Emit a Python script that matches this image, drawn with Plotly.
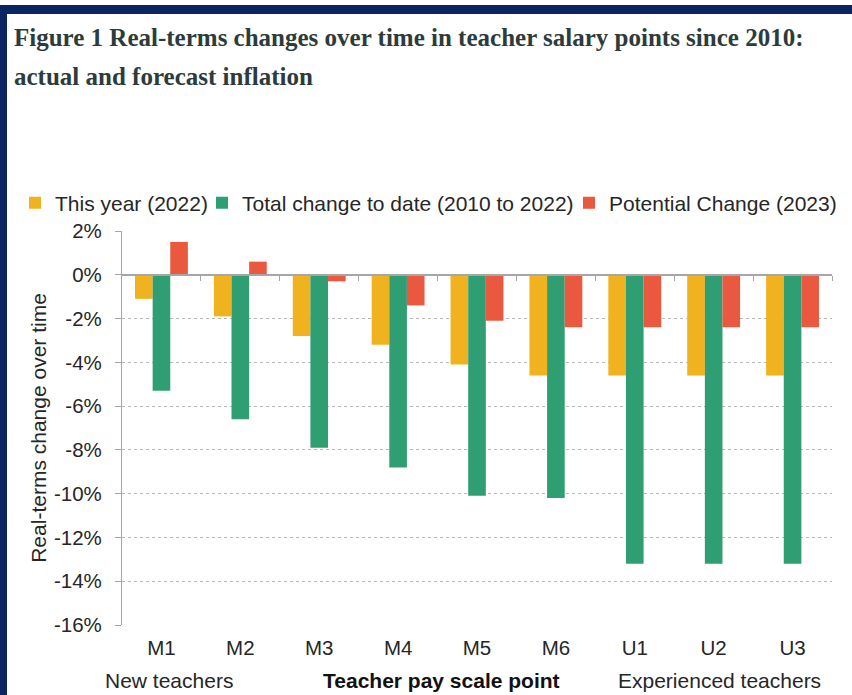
import plotly.graph_objects as go

categories = ["M1", "M2", "M3", "M4", "M5", "M6", "U1", "U2", "U3"]
this_year_2022 = [-1.1, -1.9, -2.8, -3.2, -4.1, -4.6, -4.6, -4.6, -4.6]
total_2010_2022 = [-5.3, -6.6, -7.9, -8.8, -10.1, -10.2, -13.2, -13.2, -13.2]
potential_2023 = [1.5, 0.6, -0.3, -1.4, -2.1, -2.4, -2.4, -2.4, -2.4]
y_ticks = [2, 0, -2, -4, -6, -8, -10, -12, -14, -16]
y_tick_text = [f"{v}%" for v in y_ticks]

series_names = ["This year (2022)", "Total change to date (2010 to 2022)", "Potential Change (2023)"]
series_colors = ["#f0b21f", "#2f9e73", "#e9583f"]
legend_ids = ["legend", "legend2", "legend3"]
legend_left_px = [15, 202, 569]

W, H = 852, 695
L, R, T, B = 122, 20, 231, 70
pw, ph = W - L - R, H - T - B

def px2paper_x(px):
    return (px - L) / pw

def px2paper_y(py):
    return (H - B - py) / ph

xpos = list(range(len(categories)))
fig = go.Figure()
for name, vals, col, lg in zip(series_names, [this_year_2022, total_2010_2022, potential_2023], series_colors, legend_ids):
    fig.add_trace(go.Bar(x=xpos, y=vals, name=name, legend=lg,
                         marker=dict(color=col, line=dict(width=0))))

# helper trace for the axis drawn along the zero line
fig.add_trace(go.Scatter(x=xpos, y=this_year_2022, xaxis="x2", mode="markers",
                         marker=dict(opacity=0), showlegend=False, hoverinfo="skip"))

font_sans = "Liberation Sans, Arial, sans-serif"
grey = "#a6a6a6"
txt = "#262626"

legend_common = dict(orientation="h", xref="container", yref="container",
                     y=1 - 203 / H, xanchor="left", yanchor="middle",
                     font=dict(size=21, color=txt), bgcolor="rgba(0,0,0,0)",
                     itemwidth=30, borderwidth=0)

fig.update_layout(
    width=W, height=H,
    margin=dict(l=L, r=R, t=T, b=B, autoexpand=False),
    paper_bgcolor="white", plot_bgcolor="white",
    barmode="group", bargap=0.33, bargroupgap=0,
    font=dict(family=font_sans, size=21, color=txt),
    showlegend=True,
    legend=dict(x=legend_left_px[0] / W, **legend_common),
    legend2=dict(x=legend_left_px[1] / W, **legend_common),
    legend3=dict(x=legend_left_px[2] / W, **legend_common),
    xaxis=dict(range=[-0.5, len(categories) - 0.5], tickmode="array", tickvals=xpos,
               ticktext=categories, showline=False, showgrid=False, zeroline=False,
               ticks="", ticklabelstandoff=8, tickfont=dict(size=20.5, color=txt)),
    xaxis2=dict(overlaying="x", anchor="free", position=(0 - y_ticks[-1]) / (y_ticks[0] - y_ticks[-1]),
                range=[-0.5, len(categories) - 0.5], tickmode="array",
                tickvals=[i + 0.5 for i in xpos], showticklabels=False,
                ticks="outside", ticklen=5, tickcolor=grey, showline=True,
                linecolor=grey, linewidth=1.5, showgrid=False, zeroline=False),
    yaxis=dict(range=[y_ticks[-1], y_ticks[0]], tickmode="array", tickvals=y_ticks,
               ticktext=y_tick_text, showline=True, linecolor=grey, linewidth=1.2,
               ticks="outside", ticklen=6, tickcolor=grey, ticklabelstandoff=9,
               tickfont=dict(size=20.5, color=txt),
               showgrid=True, gridcolor="#b8b8b8", griddash="3px,3px", gridwidth=1,
               zeroline=False,
               title=dict(text="Real-terms change over time", standoff=1,
                          font=dict(size=21, color=txt))),
)

# frame
navy = "#0b2563"
fig.add_shape(type="rect", xref="paper", yref="paper", x0=px2paper_x(0), x1=px2paper_x(7),
              y0=px2paper_y(H), y1=px2paper_y(5), fillcolor=navy, line=dict(width=0), layer="above")
fig.add_shape(type="rect", xref="paper", yref="paper", x0=px2paper_x(0), x1=px2paper_x(W),
              y0=px2paper_y(14), y1=px2paper_y(5), fillcolor=navy, line=dict(width=0), layer="above")

title_font = dict(family="Liberation Serif, Times New Roman, serif", size=25, color="#2c3b3b")
fig.add_annotation(text="<b>Figure 1 Real-terms changes over time in teacher salary points since 2010:</b>",
                   xref="paper", yref="paper", x=px2paper_x(12), y=px2paper_y(37),
                   xanchor="left", yanchor="middle", showarrow=False, font=title_font)
fig.add_annotation(text="<b>actual and forecast inflation</b>",
                   xref="paper", yref="paper", x=px2paper_x(12), y=px2paper_y(76),
                   xanchor="left", yanchor="middle", showarrow=False, font=title_font)

bottom_y = px2paper_y(680)
fig.add_annotation(text="New teachers", xref="paper", yref="paper", x=px2paper_x(169), y=bottom_y,
                   xanchor="center", yanchor="middle", showarrow=False, font=dict(size=21, color=txt))
fig.add_annotation(text="<b>Teacher pay scale point</b>", xref="paper", yref="paper", x=px2paper_x(441), y=bottom_y,
                   xanchor="center", yanchor="middle", showarrow=False, font=dict(size=21, color="#111"))
fig.add_annotation(text="Experienced teachers", xref="paper", yref="paper", x=px2paper_x(719), y=bottom_y,
                   xanchor="center", yanchor="middle", showarrow=False, font=dict(size=21, color=txt))

# remove the browser's default page margin so the figure sits at the window's top-left corner
fig.write_html("out.html", config={"displayModeBar": False},
               post_script="document.body.style.margin='0';document.body.style.overflow='hidden';")
